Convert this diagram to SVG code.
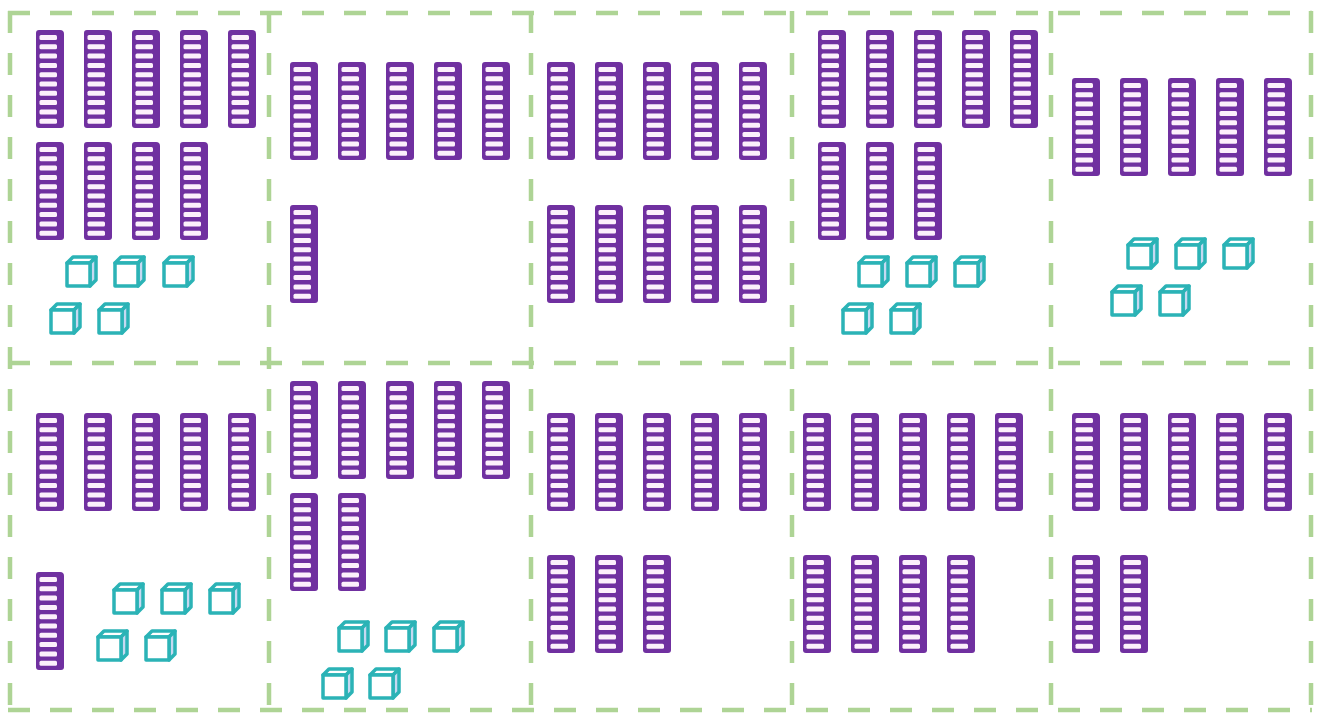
<svg xmlns="http://www.w3.org/2000/svg" xmlns:xlink="http://www.w3.org/1999/xlink" width="1318" height="713" viewBox="0 0 1318 713">
  <style>
    .grid { stroke: #aed495; stroke-width: 4.5; stroke-dasharray: 22 20; fill: none; }
    .rodbody { fill: #7030a0; }
    .slot { fill: #fcf0fb; }
    .cube { stroke: #2bb3b6; stroke-width: 3.5; stroke-linejoin: round; }
    .face { fill: #ffffff; }
    .side { fill: #c5d9f1; }
  </style>
  <defs>
    <g id="rod">
      <path class="rodbody" d="M3,0 H24 Q28,0 28,4 V95 Q28,98 25,98 H3 Q0,98 0,95 V3 Q0,0 3,0 Z"/>
      <rect class="slot" x="3.5" y="5" width="17.5" height="5" rx="1.5"/>
      <rect class="slot" x="3.5" y="14.3" width="17.5" height="5" rx="1.5"/>
      <rect class="slot" x="3.5" y="23.6" width="17.5" height="5" rx="1.5"/>
      <rect class="slot" x="3.5" y="32.9" width="17.5" height="5" rx="1.5"/>
      <rect class="slot" x="3.5" y="42.2" width="17.5" height="5" rx="1.5"/>
      <rect class="slot" x="3.5" y="51.5" width="17.5" height="5" rx="1.5"/>
      <rect class="slot" x="3.5" y="60.8" width="17.5" height="5" rx="1.5"/>
      <rect class="slot" x="3.5" y="70.1" width="17.5" height="5" rx="1.5"/>
      <rect class="slot" x="3.5" y="79.4" width="17.5" height="5" rx="1.5"/>
      <rect class="slot" x="3.5" y="88.7" width="17.5" height="5" rx="1.5"/>
    </g>
    <g id="cube">
      <polygon class="cube face" points="2,8 8,2 31,2 25,8"/>
      <polygon class="cube side" points="25,8 31,2 31,25 25,31"/>
      <rect class="cube face" x="2" y="8" width="23" height="23"/>
    </g>
  </defs>
  <rect x="0" y="0" width="1318" height="713" fill="#ffffff"/>

  <g id="connectors">
    <line class="grid" x1="8" y1="13" x2="1312" y2="13"/>
    <line class="grid" x1="8" y1="363" x2="1312" y2="363"/>
    <line class="grid" x1="8" y1="710" x2="1312" y2="710"/>
    <line class="grid" x1="10" y1="11" x2="10" y2="712"/>
    <line class="grid" x1="269" y1="11" x2="269" y2="712"/>
    <line class="grid" x1="531" y1="11" x2="531" y2="712"/>
    <line class="grid" x1="792" y1="11" x2="792" y2="712"/>
    <line class="grid" x1="1051" y1="11" x2="1051" y2="712"/>
    <line class="grid" x1="1311" y1="11" x2="1311" y2="712"/>
  </g>

  <g id="panel1">
    <use href="#rod" x="36" y="30"/><use href="#rod" x="84" y="30"/><use href="#rod" x="132" y="30"/><use href="#rod" x="180" y="30"/><use href="#rod" x="228" y="30"/>
    <use href="#rod" x="36" y="142"/><use href="#rod" x="84" y="142"/><use href="#rod" x="132" y="142"/><use href="#rod" x="180" y="142"/>
    <use href="#cube" x="65" y="255"/><use href="#cube" x="113" y="255"/><use href="#cube" x="162" y="255"/>
    <use href="#cube" x="49" y="302"/><use href="#cube" x="97" y="302"/>
  </g>

  <g id="panel2">
    <use href="#rod" x="290" y="62"/><use href="#rod" x="338" y="62"/><use href="#rod" x="386" y="62"/><use href="#rod" x="434" y="62"/><use href="#rod" x="482" y="62"/>
    <use href="#rod" x="290" y="205"/>
  </g>

  <g id="panel3">
    <use href="#rod" x="547" y="62"/><use href="#rod" x="595" y="62"/><use href="#rod" x="643" y="62"/><use href="#rod" x="691" y="62"/><use href="#rod" x="739" y="62"/>
    <use href="#rod" x="547" y="205"/><use href="#rod" x="595" y="205"/><use href="#rod" x="643" y="205"/><use href="#rod" x="691" y="205"/><use href="#rod" x="739" y="205"/>
  </g>

  <g id="panel4">
    <use href="#rod" x="818" y="30"/><use href="#rod" x="866" y="30"/><use href="#rod" x="914" y="30"/><use href="#rod" x="962" y="30"/><use href="#rod" x="1010" y="30"/>
    <use href="#rod" x="818" y="142"/><use href="#rod" x="866" y="142"/><use href="#rod" x="914" y="142"/>
    <use href="#cube" x="857" y="255"/><use href="#cube" x="905" y="255"/><use href="#cube" x="953" y="255"/>
    <use href="#cube" x="841" y="302"/><use href="#cube" x="889" y="302"/>
  </g>

  <g id="panel5">
    <use href="#rod" x="1072" y="78"/><use href="#rod" x="1120" y="78"/><use href="#rod" x="1168" y="78"/><use href="#rod" x="1216" y="78"/><use href="#rod" x="1264" y="78"/>
    <use href="#cube" x="1126" y="237"/><use href="#cube" x="1174" y="237"/><use href="#cube" x="1222" y="237"/>
    <use href="#cube" x="1110" y="284"/><use href="#cube" x="1158" y="284"/>
  </g>

  <g id="panel6">
    <use href="#rod" x="36" y="413"/><use href="#rod" x="84" y="413"/><use href="#rod" x="132" y="413"/><use href="#rod" x="180" y="413"/><use href="#rod" x="228" y="413"/>
    <use href="#rod" x="36" y="572"/>
    <use href="#cube" x="112" y="582"/><use href="#cube" x="160" y="582"/><use href="#cube" x="208" y="582"/>
    <use href="#cube" x="96" y="629"/><use href="#cube" x="144" y="629"/>
  </g>

  <g id="panel7">
    <use href="#rod" x="290" y="381"/><use href="#rod" x="338" y="381"/><use href="#rod" x="386" y="381"/><use href="#rod" x="434" y="381"/><use href="#rod" x="482" y="381"/>
    <use href="#rod" x="290" y="493"/><use href="#rod" x="338" y="493"/>
    <use href="#cube" x="337" y="620"/><use href="#cube" x="384" y="620"/><use href="#cube" x="432" y="620"/>
    <use href="#cube" x="321" y="667"/><use href="#cube" x="368" y="667"/>
  </g>

  <g id="panel8">
    <use href="#rod" x="547" y="413"/><use href="#rod" x="595" y="413"/><use href="#rod" x="643" y="413"/><use href="#rod" x="691" y="413"/><use href="#rod" x="739" y="413"/>
    <use href="#rod" x="547" y="555"/><use href="#rod" x="595" y="555"/><use href="#rod" x="643" y="555"/>
  </g>

  <g id="panel9">
    <use href="#rod" x="803" y="413"/><use href="#rod" x="851" y="413"/><use href="#rod" x="899" y="413"/><use href="#rod" x="947" y="413"/><use href="#rod" x="995" y="413"/>
    <use href="#rod" x="803" y="555"/><use href="#rod" x="851" y="555"/><use href="#rod" x="899" y="555"/><use href="#rod" x="947" y="555"/>
  </g>

  <g id="panel10">
    <use href="#rod" x="1072" y="413"/><use href="#rod" x="1120" y="413"/><use href="#rod" x="1168" y="413"/><use href="#rod" x="1216" y="413"/><use href="#rod" x="1264" y="413"/>
    <use href="#rod" x="1072" y="555"/><use href="#rod" x="1120" y="555"/>
  </g>
</svg>
